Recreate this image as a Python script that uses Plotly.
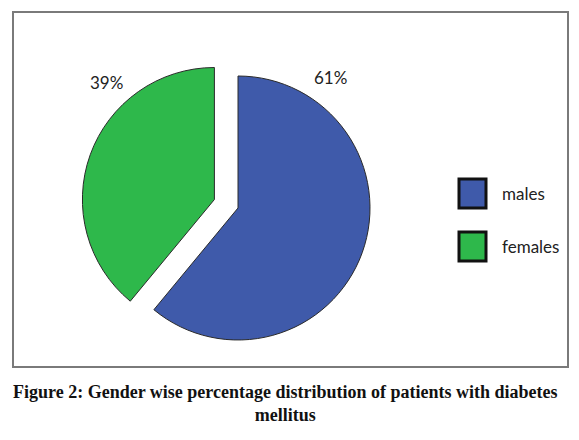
import plotly.graph_objects as go

# data
genders = ["males", "females"]
shares = [61, 39]
slice_colors = ["#3F5AAA", "#2EB84B"]
pulls = [0, 0.19]

# the page body adds an 8px margin, so the figure is a bit smaller than the window
OFF = 8
W, H = 579 - 2 * OFF, 440 - 2 * OFF


def px(x):
    return (x - OFF) / W


def py(y):
    return 1 - (y - OFF) / H


fig = go.Figure()

# pie centre ~ (238, 208) px on screen, radius ~132 px
cx, cy, r = 238, 208, 132
half = r * (1 + max(pulls))
fig.add_trace(go.Pie(
    labels=genders,
    values=shares,
    marker=dict(colors=slice_colors, line=dict(color="#2a2a2a", width=1)),
    pull=pulls,
    sort=False,
    direction="clockwise",
    rotation=0,
    textinfo="none",
    hoverinfo="label+percent",
    showlegend=False,
    domain=dict(x=[px(cx - half), px(cx + half)], y=[py(cy + half), py(cy - half)]),
))

total = sum(shares)
label_pos = [(330, 77), (106, 83)]
for v, (lx, ly) in zip(shares, label_pos):
    fig.add_annotation(
        x=px(lx), y=py(ly), xref="paper", yref="paper",
        xanchor="center", yanchor="middle",
        text=f"{round(100 * v / total)}%", showarrow=False,
        font=dict(family="Lato", size=17, color="#222222"),
    )

# legend drawn by hand: big squares with thick black border
for i, (g, c) in enumerate(zip(genders, slice_colors)):
    top = 179 + i * 53
    fig.add_shape(
        type="rect", xref="paper", yref="paper",
        x0=px(459), x1=px(486), y0=py(top + 29), y1=py(top),
        fillcolor=c, line=dict(color="#111111", width=3),
    )
    fig.add_annotation(
        x=px(500), y=py(top + 15), xref="paper", yref="paper",
        text=g, showarrow=False, xanchor="left", yanchor="middle",
        font=dict(family="Lato", size=17, color="#222222"),
    )

# outer frame
fig.add_shape(
    type="rect", xref="paper", yref="paper",
    x0=px(13), x1=px(568), y0=py(367), y1=py(12),
    line=dict(color="#7a7a7a", width=2),
)

fig.add_annotation(
    x=px(285), y=py(403), xref="paper", yref="paper",
    xanchor="center", yanchor="middle",
    text="<b>Figure 2: Gender wise percentage distribution of patients with diabetes<br>mellitus</b>",
    showarrow=False, align="center",
    font=dict(family="Liberation Serif", size=18, color="#111111"),
)

fig.update_layout(
    width=W, height=H,
    margin=dict(l=0, r=0, t=0, b=0),
    paper_bgcolor="white",
    plot_bgcolor="white",
)

fig.write_html("out.html")
